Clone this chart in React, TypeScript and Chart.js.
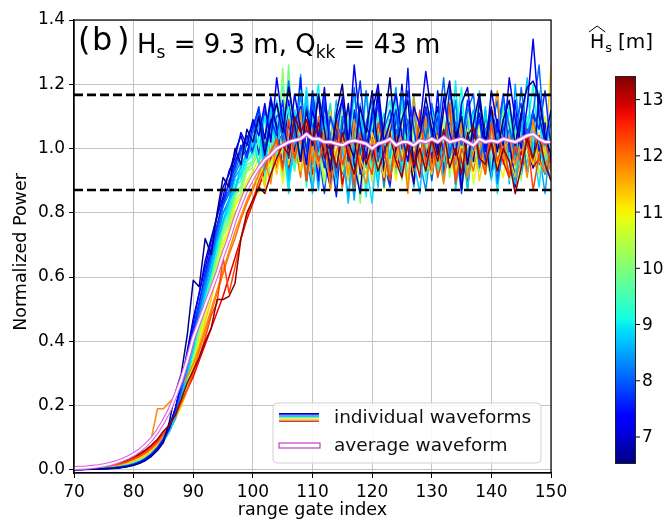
import React, { useEffect, useRef } from "react";
import { Chart, registerables } from "chart.js";

Chart.register(...registerables);

// range gate index (x)
const GATES = [
  70, 71, 72, 73, 74, 75, 76, 77, 78, 79,
  80, 81, 82, 83, 84, 85, 86, 87, 88, 89,
  90, 91, 92, 93, 94, 95, 96, 97, 98, 99,
  100, 101, 102, 103, 104, 105, 106, 107, 108, 109,
  110, 111, 112, 113, 114, 115, 116, 117, 118, 119,
  120, 121, 122, 123, 124, 125, 126, 127, 128, 129,
  130, 131, 132, 133, 134, 135, 136, 137, 138, 139,
  140, 141, 142, 143, 144, 145, 146, 147, 148, 149,
  150,
];

const X_TICKS = [70, 80, 90, 100, 110, 120, 130, 140, 150];
const Y_TICKS = [0.0, 0.2, 0.4, 0.6, 0.8, 1.0, 1.2, 1.4];
const CBAR_TICKS = [7, 8, 9, 10, 11, 12, 13];
const CBAR_MIN = 6.52;
const CBAR_MAX = 13.42;

const UPPER_BOUND = 1.167;
const LOWER_BOUND = 0.871;

const WAVE_66 = [
  .001, .001, .001, .002, .002, .003, .004, .005, .007, .010,
  .014, .020, .029, .042, .060, .085, .15, .24, .30, .42,
  .59, .57, .72, .67, .80, .91, .88, 1.00, .95, 1.06,
  1.02, 1.10, .98, 1.08, 1.14, 1.05, 1.19, 1.08, .96, 1.12,
  1.01, 1.17, 1.06, .93, 1.11, 1.20, 1.02, .97, 1.13, 1.05,
  1.18, .99, 1.07, 1.22, 1.00, 1.09, 1.15, .94, 1.04, 1.16,
  1.06, .98, 1.12, 1.21, 1.03, 1.10, .95, 1.08, 1.17, 1.02,
  1.13, .99, 1.09, 1.15, 1.01, 1.11, 1.19, 1.21, 1.16, 1.04,
  .98,
];
const WAVE_69 = [
  .001, .001, .002, .002, .002, .003, .004, .005, .007, .010,
  .015, .021, .031, .045, .064, .090, .13, .19, .27, .37,
  .47, .55, .65, .72, .79, .88, .92, .99, 1.04, .98,
  1.07, 1.12, 1.03, 1.15, 1.06, .94, 1.08, .99, 1.13, .90,
  1.05, 1.16, .96, .88, 1.09, 1.01, 1.14, .95, .86, 1.07,
  1.02, 1.18, .93, 1.06, .98, 1.20, 1.00, .89, 1.10, .97,
  1.04, 1.13, .92, .99, 1.08, .87, 1.05, .96, 1.15, 1.01,
  .91, 1.09, .98, 1.03, .88, 1.11, 1.00, .94, 1.17, 1.03,
  .97,
];
const WAVE_72 = [
  .001, .001, .002, .002, .003, .003, .004, .006, .008, .011,
  .016, .023, .033, .047, .066, .092, .13, .19, .27, .36,
  .46, .55, .63, .71, .79, .85, .93, .97, 1.05, 1.01,
  1.09, 1.04, 1.14, 1.02, 1.22, 1.08, 1.00, 1.17, 1.06, .95,
  1.12, 1.03, 1.19, .98, 1.09, 1.15, 1.01, 1.26, 1.07, .97,
  1.11, 1.20, 1.02, 1.08, 1.17, 1.04, .96, 1.13, 1.07, 1.24,
  1.10, 1.00, 1.16, 1.05, .98, 1.14, 1.19, 1.03, 1.11, .99,
  1.18, 1.07, 1.01, 1.22, 1.09, 1.00, 1.13, 1.34, 1.10, 1.02,
  1.12,
];
const WAVE_75 = [
  .001, .001, .002, .002, .003, .004, .005, .006, .008, .012,
  .017, .024, .034, .048, .068, .095, .13, .19, .26, .34,
  .44, .52, .61, .69, .76, .84, .89, .96, 1.00, 1.04,
  .99, 1.10, 1.03, 1.16, 1.07, .93, 1.15, 1.00, 1.22, .95,
  1.06, .90, 1.14, 1.00, .85, 1.08, .97, 1.12, .92, 1.03,
  .96, 1.17, 1.02, .89, 1.10, .99, 1.25, .93, 1.05, 1.12,
  .97, 1.18, .91, 1.06, 1.00, 1.13, .88, 1.04, .95, 1.10,
  1.02, .90, 1.07, .98, 1.15, .92, 1.03, 1.12, .99, 1.08,
  .95,
];
const WAVE_77 = [
  .001, .002, .002, .002, .003, .004, .005, .007, .009, .012,
  .017, .024, .035, .049, .069, .096, .13, .19, .26, .34,
  .43, .52, .60, .68, .76, .82, .90, .94, 1.01, .97,
  1.06, 1.13, 1.00, 1.09, 1.04, 1.15, .97, 1.08, 1.13, .99,
  1.18, 1.04, .94, 1.10, 1.03, 1.16, .96, 1.07, 1.21, 1.01,
  1.09, 1.14, .97, 1.05, 1.12, 1.00, 1.18, 1.06, .95, 1.13,
  1.04, 1.10, .98, 1.19, 1.07, 1.01, 1.15, 1.03, 1.09, .96,
  1.12, 1.05, 1.17, .99, 1.08, 1.14, 1.02, 1.11, 1.06, 1.18,
  1.00,
];
const WAVE_79 = [
  .001, .002, .002, .003, .003, .004, .005, .007, .009, .012,
  .017, .025, .035, .050, .070, .098, .14, .19, .26, .34,
  .42, .51, .60, .67, .75, .83, .87, .95, .99, 1.03,
  1.08, .98, 1.12, 1.04, 1.10, 1.12, .89, 1.01, 1.08, .94,
  1.15, .99, .86, 1.05, 1.01, 1.10, .91, 1.03, 1.08, .96,
  1.04, 1.14, .95, .88, 1.06, 1.00, 1.09, .93, 1.02, 1.13,
  .90, 1.05, .98, 1.08, 1.01, .86, 1.10, .99, 1.04, .94,
  1.07, 1.15, .97, 1.02, .91, 1.08, 1.00, 1.11, .95, 1.05,
  .99,
];
const WAVE_81 = [
  .001, .002, .002, .003, .004, .004, .006, .007, .010, .013,
  .018, .025, .035, .050, .070, .097, .13, .18, .25, .33,
  .41, .50, .59, .66, .74, .82, .86, .93, .98, 1.01,
  1.05, 1.11, .98, 1.07, 1.14, 1.02, 1.21, 1.05, .96, 1.13,
  1.07, .99, 1.16, 1.04, .91, 1.10, 1.02, 1.19, .98, 1.08,
  1.15, .96, 1.06, 1.12, 1.01, 1.18, 1.07, .94, 1.10, 1.03,
  1.14, 1.05, 1.22, .97, 1.08, 1.01, 1.12, 1.17, .95, 1.06,
  1.10, 1.02, 1.16, 1.07, .98, 1.19, 1.04, 1.11, 1.26, 1.01,
  1.08,
];
const WAVE_83 = [
  .002, .002, .003, .003, .004, .005, .006, .008, .010, .014,
  .019, .026, .036, .050, .069, .094, .13, .18, .24, .32,
  .40, .49, .57, .66, .72, .80, .84, .92, .96, 1.02,
  .98, 1.08, .95, 1.12, 1.01, 1.10, .92, 1.04, 1.17, .97,
  .87, 1.06, .99, 1.12, .92, 1.02, .84, 1.07, 1.00, 1.18,
  .94, 1.04, .88, 1.09, 1.00, .92, 1.06, 1.13, .96, .87,
  1.03, 1.09, .93, 1.01, 1.15, .90, .98, 1.07, .94, 1.02,
  1.11, .89, 1.00, 1.06, .95, 1.09, .92, 1.03, 1.14, .97,
  .90,
];
const WAVE_85 = [
  .002, .002, .003, .003, .004, .005, .006, .008, .010, .014,
  .019, .026, .036, .049, .067, .091, .12, .17, .23, .31,
  .39, .48, .56, .64, .72, .80, .83, .91, .94, .99,
  1.03, 1.10, .94, 1.14, 1.04, .92, 1.13, 1.01, 1.23, .95,
  1.05, .87, 1.10, .98, 1.15, .92, 1.02, .84, 1.08, .96,
  1.13, 1.00, .90, 1.06, 1.19, .95, 1.03, .88, 1.09, .99,
  .92, 1.11, 1.01, 1.17, .96, .90, 1.05, 1.12, .97, 1.06,
  .94, 1.02, 1.10, .89, 1.20, 1.00, .95, 1.08, .99, .86,
  1.04,
];
const WAVE_87 = [
  .002, .002, .003, .004, .004, .005, .007, .008, .011, .014,
  .019, .026, .035, .048, .065, .088, .12, .16, .22, .30,
  .38, .47, .55, .62, .71, .77, .84, .87, .95, .98,
  1.02, 1.07, .93, 1.12, 1.00, 1.12, .90, 1.03, .98, 1.16,
  .86, 1.04, .97, .91, 1.09, 1.00, .83, 1.05, 1.14, .94,
  1.02, .88, 1.08, .97, 1.12, .92, 1.04, .96, .86, 1.07,
  .99, 1.11, .90, 1.02, .95, 1.08, .87, 1.05, .98, 1.13,
  .91, 1.00, 1.09, .96, .89, 1.04, 1.22, .97, 1.03, .92,
  1.01,
];
const WAVE_89 = [
  .002, .002, .003, .004, .004, .005, .007, .009, .011, .015,
  .020, .027, .036, .049, .066, .089, .12, .16, .22, .29,
  .37, .46, .54, .62, .69, .77, .81, .88, .92, .97,
  1.01, 1.08, .96, 1.13, 1.03, 1.04, .86, 1.12, 1.01, 1.19,
  .97, .90, 1.05, 1.14, .92, 1.01, 1.09, .88, 1.06, .95,
  .83, 1.04, 1.11, .94, 1.00, 1.16, .89, 1.02, 1.08, .97,
  1.06, .92, .99, 1.13, .87, 1.03, 1.10, .95, 1.18, 1.00,
  .90, 1.07, .98, 1.12, 1.02, .93, 1.09, 1.01, .88, 1.05,
  .97,
];
const WAVE_90 = [
  .002, .002, .003, .004, .005, .005, .007, .009, .011, .015,
  .020, .027, .036, .049, .066, .089, .12, .16, .22, .29,
  .38, .46, .55, .62, .70, .78, .82, .90, .91, .99,
  1.03, .95, 1.10, .98, 1.15, 1.06, .88, 1.02, 1.18, .93,
  1.08, 1.20, .97, 1.04, .89, 1.13, 1.01, .94, 1.07, .85,
  1.10, .99, 1.05, .91, 1.16, 1.03, .87, 1.09, .96, 1.02,
  1.14, .93, 1.06, .98, 1.21, .90, 1.03, 1.11, .96, 1.00,
  1.08, .86, 1.04, 1.13, .97, 1.06, .92, 1.01, 1.09, .95,
  1.11,
];
const WAVE_91 = [
  .002, .002, .003, .004, .005, .006, .007, .009, .011, .015,
  .020, .027, .036, .049, .066, .089, .12, .16, .22, .29,
  .37, .46, .54, .62, .70, .76, .84, .86, .93, .96,
  .99, 1.04, 1.12, .95, 1.06, 1.20, 1.01, .93, 1.10, 1.05,
  1.16, .97, 1.03, 1.11, .90, 1.07, 1.13, 1.00, .95, 1.18,
  1.04, .91, 1.09, 1.15, .98, 1.06, 1.02, 1.17, .94, 1.08,
  1.12, 1.00, .93, 1.10, 1.05, 1.19, .97, 1.03, 1.14, .92,
  1.07, 1.15, .99, 1.04, 1.11, .95, 1.06, 1.20, 1.00, 1.09,
  .94,
];
const WAVE_93 = [
  .002, .003, .003, .004, .005, .006, .007, .009, .012, .016,
  .021, .028, .038, .051, .068, .091, .12, .16, .22, .29,
  .37, .45, .53, .61, .68, .77, .80, .88, .90, .96,
  .98, 1.03, .92, 1.08, .97, 1.05, 1.13, .94, 1.04, .88,
  1.10, .98, 1.06, .91, 1.12, 1.01, .95, 1.17, 1.00, 1.07,
  .93, 1.11, 1.02, .97, 1.14, .94, 1.06, 1.00, 1.10, .90,
  1.05, 1.12, .96, 1.07, .99, 1.15, .93, 1.08, 1.01, 1.11,
  .94, 1.04, 1.13, .98, 1.07, .92, 1.10, 1.02, 1.18, .96,
  1.03,
];
const WAVE_96 = [
  .002, .003, .003, .004, .005, .006, .008, .010, .013, .017,
  .022, .029, .039, .052, .069, .092, .12, .16, .21, .28,
  .36, .44, .52, .60, .67, .76, .79, .87, .88, .95,
  .96, 1.02, .91, 1.09, .97, 1.04, .93, 1.12, .99, 1.06,
  .89, 1.08, 1.01, .94, 1.13, .98, 1.05, .90, 1.10, 1.00,
  1.07, .95, 1.01, 1.12, .92, 1.06, .99, 1.15, .94, 1.03,
  .98, 1.09, .91, 1.05, 1.11, .96, 1.02, 1.08, .93, 1.12,
  1.00, .95, 1.06, .90, 1.10, .99, 1.05, .94, 1.13, 1.01,
  .97,
];
const WAVE_99 = [
  .002, .003, .004, .004, .005, .007, .008, .010, .013, .017,
  .023, .030, .040, .053, .070, .092, .12, .16, .21, .27,
  .35, .43, .51, .59, .66, .75, .78, .86, .87, .94,
  .95, .99, 1.04, .90, 1.08, .97, 1.26, .93, 1.05, 1.00,
  1.10, .91, 1.03, .96, 1.07, .87, 1.11, 1.01, .95, 1.05,
  .98, 1.09, .92, 1.04, .96, 1.13, 1.00, .93, 1.08, 1.02,
  .90, 1.06, .97, 1.10, 1.01, .94, 1.05, .98, 1.15, .92,
  1.04, .96, 1.08, 1.00, .91, 1.09, 1.03, .95, 1.12, 1.01,
  .93,
];
const WAVE_101 = [
  .002, .003, .004, .005, .005, .007, .008, .010, .013, .017,
  .023, .030, .040, .053, .070, .092, .12, .16, .21, .27,
  .35, .43, .51, .58, .66, .74, .77, .85, .88, .93,
  .96, 1.01, .90, 1.05, .97, 1.25, .93, 1.03, .99, 1.08,
  .92, 1.04, .97, 1.13, .88, 1.02, .95, 1.07, .83, 1.00,
  1.09, .94, 1.03, .98, 1.11, .90, 1.05, 1.00, .93, 1.07,
  .97, 1.02, 1.10, .91, 1.05, .99, .87, 1.04, 1.08, .95,
  1.01, .93, 1.12, .98, 1.05, .90, 1.07, 1.00, .95, 1.03,
  .98,
];
const WAVE_103 = [
  .003, .003, .004, .005, .006, .007, .009, .011, .014, .018,
  .024, .031, .041, .054, .071, .093, .12, .16, .20, .26,
  .34, .42, .50, .57, .65, .73, .76, .84, .86, .93,
  .94, .87, 1.03, .96, 1.06, .91, 1.10, .98, 1.04, .93,
  1.08, 1.00, .89, 1.05, .97, 1.12, .92, 1.03, .96, 1.07,
  .90, 1.01, 1.09, .95, 1.04, .99, .91, 1.08, 1.00, .94,
  1.11, .96, 1.03, .92, 1.07, .98, 1.13, .95, 1.04, .97,
  .91, 1.05, 1.00, 1.09, .94, 1.03, .97, 1.08, .92, 1.01,
  1.04,
];
const WAVE_108 = [
  .003, .004, .004, .005, .006, .008, .009, .012, .015, .019,
  .025, .033, .043, .056, .073, .095, .12, .16, .20, .26,
  .33, .41, .48, .56, .63, .71, .75, .83, .85, .90,
  .93, .86, 1.01, .94, 1.05, .89, .99, 1.07, .92, 1.02,
  .96, 1.08, .90, 1.00, 1.05, .93, .98, 1.10, .91, 1.03,
  .97, 1.06, .87, 1.01, .95, 1.09, .99, .92, 1.04, .96,
  1.03, .91, 1.07, .97, 1.02, .94, 1.06, .89, 1.00, 1.09,
  .95, 1.03, .97, .91, 1.06, 1.00, .94, 1.04, .98, 1.10,
  .96,
];
const WAVE_110 = [
  .003, .004, .004, .005, .006, .008, .009, .012, .015, .019,
  .025, .033, .043, .056, .073, .095, .12, .16, .20, .26,
  .33, .41, .48, .56, .63, .70, .74, .82, .85, .89,
  .93, .97, .89, 1.03, .95, 1.00, .91, 1.06, .97, 1.14,
  .98, .90, 1.05, .96, 1.09, .94, 1.01, .86, 1.04, .99,
  .93, 1.07, .97, 1.02, .90, 1.05, .99, .94, 1.11, .96,
  1.01, .92, 1.06, .98, .90, 1.04, 1.00, .95, 1.08, .93,
  1.02, .97, .91, 1.06, 1.00, .94, 1.03, .98, 1.05, .92,
  1.00,
];
const WAVE_113 = [
  .003, .004, .005, .006, .007, .008, .010, .013, .016, .021,
  .027, .035, .045, .059, .076, .097, .12, .16, .20, .25,
  .32, .39, .46, .53, .61, .68, .73, .80, .83, .88,
  .91, .95, .88, 1.00, .92, 1.03, .95, 1.08, .93, 1.01,
  .89, 1.04, .96, 1.12, .93, 1.02, .90, 1.06, .97, .92,
  1.05, .98, .91, 1.08, .95, 1.03, .89, 1.01, 1.06, .96,
  .92, 1.04, .98, 1.15, .93, 1.02, .96, 1.05, .90, 1.00,
  1.07, .94, 1.03, .97, .91, 1.05, 1.00, .95, 1.04, .98,
  1.25,
];
const WAVE_118 = [
  .004, .005, .006, .007, .008, .010, .012, .015, .019, .024,
  .040, .055, .08, .10, .19, .19, .21, .23, .26, .29,
  .33, .38, .44, .50, .56, .62, .68, .74, .79, .84,
  .88, .92, .97, .89, 1.02, .93, 1.05, .96, 1.12, .90,
  1.01, .94, 1.06, .87, .99, 1.04, .92, 1.09, .95, .89,
  1.03, .96, 1.08, .91, .98, 1.05, .86, 1.16, .95, 1.10,
  .93, 1.00, .89, 1.04, .96, 1.08, .91, .99, 1.03, .94,
  1.06, 1.18, .97, 1.04, .95, 1.02, .91, 1.09, .96, .93,
  1.01,
];
const WAVE_120 = [
  .004, .005, .006, .007, .008, .010, .012, .015, .019, .024,
  .031, .040, .051, .065, .083, .10, .13, .16, .20, .25,
  .31, .37, .43, .49, .55, .61, .67, .72, .78, .83,
  .87, .92, .96, 1.00, .94, 1.06, .97, 1.02, .91, 1.08,
  .95, 1.10, .99, .93, 1.04, .88, 1.00, 1.07, .96, 1.02,
  .90, 1.04, .98, 1.09, .94, 1.01, .97, .89, 1.05, 1.00,
  .94, 1.08, .96, 1.01, .91, 1.06, .99, .93, 1.04, .97,
  1.00, 1.09, .95, 1.02, .88, .99, 1.05, .94, 1.01, .97,
  .93,
];
const WAVE_123 = [
  .005, .005, .006, .007, .009, .011, .013, .016, .020, .026,
  .034, .043, .055, .070, .088, .11, .14, .17, .21, .25,
  .30, .35, .41, .48, .52, .66, .55, .63, .72, .79,
  .84, .90, .94, .99, 1.03, .94, 1.09, .97, 1.04, .90,
  1.06, .96, 1.02, .91, 1.10, .95, 1.01, .88, 1.05, .97,
  .92, 1.08, .99, .90, 1.04, .96, 1.02, .93, 1.12, .95,
  1.03, .91, .98, 1.14, .89, 1.00, .95, 1.05, .99, .92,
  1.08, .96, 1.02, .91, 1.01, .95, 1.04, .87, .98, 1.03,
  .94,
];
const WAVE_128 = [
  .005, .006, .007, .008, .010, .012, .014, .018, .022, .028,
  .036, .046, .058, .074, .092, .11, .14, .17, .21, .25,
  .29, .34, .39, .44, .49, .54, .60, .66, .72, .78,
  .83, .88, .93, .97, 1.00, 1.05, .94, 1.01, .96, 1.07,
  .92, .99, 1.04, .95, 1.06, .89, .98, 1.02, .94, 1.05,
  .96, 1.01, .90, 1.05, .98, .93, 1.03, .99, .91, 1.08,
  .95, 1.02, .92, .99, 1.05, .96, .90, 1.07, .97, 1.01,
  .93, 1.03, .96, .91, 1.02, .98, 1.06, .94, .97, .92,
  1.00,
];
const WAVE_133 = [
  .006, .007, .008, .009, .011, .013, .016, .020, .025, .031,
  .040, .050, .062, .077, .095, .12, .14, .17, .22, .27,
  .31, .35, .40, .44, .53, .53, .54, .58, .72, .80,
  .84, .88, .86, .92, .97, 1.01, .98, 1.10, 1.05, 1.09,
  1.02, 1.08, .97, 1.02, .94, 1.05, .98, .92, 1.03, .95,
  1.01, .93, .99, 1.04, .96, .91, 1.02, .95, 1.00, .93,
  1.03, .96, 1.06, .94, 1.00, .92, 1.04, 1.07, .97, .95,
  1.02, .93, 1.00, .96, .86, .94, 1.03, .97, 1.04, .95,
  .90,
];

// drawing order: first entry is drawn on top
const WAVES = [
  WAVE_133, WAVE_66, WAVE_72, WAVE_123, WAVE_81, WAVE_118, WAVE_77, WAVE_87, WAVE_113,
  WAVE_69, WAVE_93, WAVE_128, WAVE_83, WAVE_103, WAVE_90, WAVE_75, WAVE_120, WAVE_89,
  WAVE_108, WAVE_79, WAVE_101, WAVE_96, WAVE_85, WAVE_110, WAVE_99, WAVE_91,
];
const WAVE_HS = [
  13.3, 6.6, 7.2, 12.3, 8.1, 11.8, 7.7, 8.7, 11.3,
  6.9, 9.3, 12.8, 8.3, 10.3, 9.0, 7.5, 12.0, 8.9,
  10.8, 7.9, 10.1, 9.6, 8.5, 11.0, 9.9, 9.1,
];

const AVERAGE = [
  .005, .006, .007, .009, .011, .014, .018, .023, .030, .038,
  .048, .060, .076, .095, .12, .15, .185, .23, .28, .34,
  .41, .46, .51, .56, .61, .67, .72, .78, .83, .875,
  .91, .94, .965, .98, 1.00, 1.01, 1.02, 1.025, 1.03, 1.045,
  1.03, 1.03, 1.02, 1.02, 1.015, 1.01, 1.02, 1.025, 1.02, 1.015,
  1.00, 1.015, 1.02, 1.03, 1.01, 1.02, 1.02, 1.01, 1.025, 1.02,
  1.03, 1.02, 1.035, 1.02, 1.025, 1.03, 1.02, 1.01, 1.03, 1.02,
  1.025, 1.02, 1.03, 1.025, 1.02, 1.03, 1.04, 1.045, 1.03, 1.02,
  1.02,
];

const FONT = "'DejaVu Sans', 'Liberation Sans', sans-serif";

// matplotlib jet colormap
const JET: Record<string, number[][]> = {
  r: [[0, 0], [0.35, 0], [0.66, 1], [0.89, 1], [1, 0.5]],
  g: [[0, 0], [0.125, 0], [0.375, 1], [0.64, 1], [0.91, 0], [1, 0]],
  b: [[0, 0.5], [0.11, 1], [0.34, 1], [0.65, 0], [1, 0]],
};
function interp(pts: number[][], t: number) {
  for (let i = 1; i < pts.length; i++) {
    if (t <= pts[i][0]) {
      const [x0, y0] = pts[i - 1];
      const [x1, y1] = pts[i];
      return y0 + ((y1 - y0) * (t - x0)) / (x1 - x0);
    }
  }
  return pts[pts.length - 1][1];
}
function jet(t: number) {
  const c = Math.max(0, Math.min(1, t));
  const r = Math.round(interp(JET.r, c) * 255);
  const g = Math.round(interp(JET.g, c) * 255);
  const b = Math.round(interp(JET.b, c) * 255);
  return `rgb(${r},${g},${b})`;
}
const hsColor = (hs: number) => jet((hs - CBAR_MIN) / (CBAR_MAX - CBAR_MIN));

const toPts = (vals: number[]) => GATES.map((g, i) => ({ x: g, y: vals[i] }));

const overlayPlugin = {
  id: "overlay",
  afterDraw(chart: any) {
    const ctx: CanvasRenderingContext2D = chart.ctx;
    const { left, right, top, bottom } = chart.chartArea;
    ctx.save();
    // frame
    ctx.strokeStyle = "#000";
    ctx.lineWidth = 1.2;
    ctx.strokeRect(left, top, right - left, bottom - top);

    // panel title
    ctx.fillStyle = "#000";
    ctx.textBaseline = "alphabetic";
    ctx.textAlign = "left";
    ctx.font = `32px ${FONT}`;
    ctx.fillText("(", 78, 50);
    ctx.fillText("b", 92, 50);
    ctx.fillText(")", 117, 50);
    const big = 26;
    const sub = 17;
    let x = 137;
    const bl = 53;
    const put = (s: string, size: number, dy: number) => {
      ctx.font = `${size}px ${FONT}`;
      ctx.fillText(s, x, bl + dy);
      x += ctx.measureText(s).width;
    };
    put("H", big, 0);
    put("s", sub, 5);
    put(" = 9.3 m, Q", big, 0);
    put("kk", sub, 5);
    put(" = 43 m", big, 0);

    // legend
    const lx = 273, ly = 403, lw = 268, lh = 60;
    ctx.beginPath();
    ctx.roundRect(lx, ly, lw, lh, 4);
    ctx.fillStyle = "rgba(255,255,255,0.85)";
    ctx.fill();
    ctx.strokeStyle = "#d0d0d0";
    ctx.lineWidth = 1;
    ctx.stroke();
    const handleCols = [0.02, 0.12, 0.25, 0.45, 0.6, 0.75, 0.95];
    handleCols.forEach((t, k) => {
      ctx.beginPath();
      ctx.strokeStyle = jet(t);
      ctx.lineWidth = 1.1;
      const yy = 413.5 + k * 1.3;
      ctx.moveTo(279, yy);
      ctx.lineTo(319, yy);
      ctx.stroke();
    });
    ctx.fillStyle = "#fff";
    ctx.fillRect(279, 443, 41, 5);
    ctx.strokeStyle = "#c050c8";
    ctx.lineWidth = 1.3;
    ctx.strokeRect(279, 443, 41, 5);
    ctx.fillStyle = "#111";
    ctx.font = `18.5px ${FONT}`;
    ctx.textBaseline = "middle";
    ctx.fillText("individual waveforms", 334, 418);
    ctx.fillText("average waveform", 334, 446);

    // axis titles
    ctx.font = `17.5px ${FONT}`;
    ctx.textAlign = "center";
    ctx.fillStyle = "#000";
    ctx.fillText("range gate index", (left + right) / 2, 510);
    ctx.save();
    ctx.translate(21.5, 252);
    ctx.rotate(-Math.PI / 2);
    ctx.fillText("Normalized Power", 0, 0);
    ctx.restore();

    // colorbar
    const cx0 = 615, cx1 = 636, cy0 = 76, cy1 = 464;
    const grad = ctx.createLinearGradient(0, cy1, 0, cy0);
    for (let i = 0; i <= 40; i++) grad.addColorStop(i / 40, jet(i / 40));
    ctx.fillStyle = grad;
    ctx.fillRect(cx0, cy0, cx1 - cx0, cy1 - cy0);
    ctx.strokeStyle = "#222";
    ctx.lineWidth = 1;
    ctx.strokeRect(cx0 + 0.5, cy0 + 0.5, cx1 - cx0 - 1, cy1 - cy0 - 1);
    ctx.font = `17px ${FONT}`;
    ctx.textAlign = "left";
    ctx.textBaseline = "middle";
    ctx.fillStyle = "#000";
    CBAR_TICKS.forEach((v) => {
      const yy = cy1 - ((v - CBAR_MIN) / (CBAR_MAX - CBAR_MIN)) * (cy1 - cy0);
      ctx.beginPath();
      ctx.strokeStyle = "#000";
      ctx.moveTo(cx1, yy);
      ctx.lineTo(cx1 + 4, yy);
      ctx.stroke();
      ctx.fillText(String(v), cx1 + 6, yy + 1);
    });
    // colorbar label  \hat{H}_s [m]
    ctx.textBaseline = "alphabetic";
    ctx.font = `19px ${FONT}`;
    ctx.fillText("H", 590, 48);
    const hw = ctx.measureText("H").width;
    ctx.beginPath();
    ctx.strokeStyle = "#000";
    ctx.lineWidth = 1;
    ctx.moveTo(589, 32);
    ctx.lineTo(590 + hw / 2, 26);
    ctx.lineTo(591 + hw, 32);
    ctx.stroke();
    ctx.font = `13px ${FONT}`;
    ctx.fillText("s", 590 + hw + 1, 52);
    ctx.font = `20px ${FONT}`;
    ctx.fillText("[m]", 618, 48);
    ctx.restore();
  },
};

export default function App() {
  const ref = useRef<HTMLCanvasElement | null>(null);
  useEffect(() => {
    if (!ref.current) return;
    const datasets: any[] = [];
    datasets.push({
      data: [{ x: 70, y: UPPER_BOUND }, { x: 150, y: UPPER_BOUND }],
      borderColor: "#000", borderWidth: 2.6, borderDash: [9, 4], pointRadius: 0,
    });
    datasets.push({
      data: [{ x: 70, y: LOWER_BOUND }, { x: 150, y: LOWER_BOUND }],
      borderColor: "#000", borderWidth: 2.6, borderDash: [9, 4], pointRadius: 0,
    });
    datasets.push({
      data: toPts(AVERAGE), borderColor: "#ffffff", borderWidth: 2, pointRadius: 0,
    });
    datasets.push({
      data: toPts(AVERAGE), borderColor: "#dc64dc", borderWidth: 4.2, pointRadius: 0,
    });
    WAVES.forEach((w, i) => {
      datasets.push({
        data: toPts(w), borderColor: hsColor(WAVE_HS[i]), borderWidth: 1.5, pointRadius: 0,
      });
    });
    const chart = new Chart(ref.current, {
      type: "line",
      data: { datasets },
      options: {
        animation: false,
        responsive: false,
        devicePixelRatio: 1,
        events: [],
        layout: { padding: { left: 0, right: 120, top: 20, bottom: 0 } },
        plugins: { legend: { display: false }, tooltip: { enabled: false } },
        elements: { line: { tension: 0, borderJoinStyle: "round" } },
        scales: {
          x: {
            type: "linear", min: 70, max: 150,
            afterBuildTicks: (s: any) => { s.ticks = X_TICKS.map((v) => ({ value: v })); },
            afterFit: (s: any) => { s.height = 49; },
            ticks: { font: { family: FONT, size: 17 }, color: "#000", padding: 4, maxRotation: 0, autoSkip: false },
            grid: { color: "#c4c4c4", lineWidth: 1, tickColor: "#000", tickLength: 5 },
            border: { color: "#000", width: 1.2 },
          },
          y: {
            type: "linear", min: -0.01, max: 1.4,
            afterBuildTicks: (s: any) => { s.ticks = Y_TICKS.map((v) => ({ value: v })); },
            afterFit: (s: any) => { s.width = 74; },
            ticks: {
              font: { family: FONT, size: 17 }, color: "#000", padding: 4,
              callback: (v: any) => Number(v).toFixed(1),
            },
            grid: { color: "#c4c4c4", lineWidth: 1, tickColor: "#000", tickLength: 5 },
            border: { color: "#000", width: 1.2 },
          },
        },
      },
      plugins: [overlayPlugin],
    });
    return () => chart.destroy();
  }, []);
  return (
    <div style={{ position: "fixed", left: 0, top: 0, width: 671, height: 522, background: "#fff" }}>
      <canvas ref={ref} width={671} height={522} style={{ width: 671, height: 522, display: "block" }} />
    </div>
  );
}
